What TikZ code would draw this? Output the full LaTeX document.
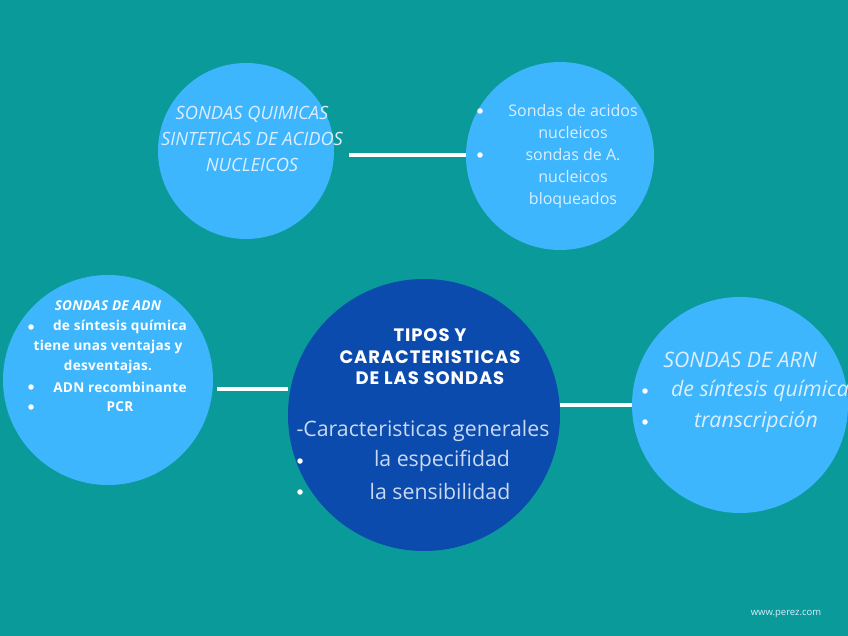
\documentclass[tikz,border=0pt]{standalone}
\usepackage{fontspec}
\setmainfont{Open Sans}
\newfontfamily\titlefont{Poppins}[LetterSpace=5]
\newfontfamily\adnfont{Open Sans}[LetterSpace=2]
\definecolor{bgteal}{HTML}{0A9A9A}
\definecolor{lightblue}{HTML}{3DB6FD}
\definecolor{darkblue}{HTML}{0B4BAD}
\definecolor{palet}{HTML}{DCEEFF}
\definecolor{paled}{HTML}{C9D9F2}
\tikzset{
  lbcircle/.style={circle, fill=lightblue, inner sep=0pt},
  dbcircle/.style={circle, fill=darkblue, inner sep=0pt},
  conn/.style={draw=white, line width=3.5pt},
  txt/.style={inner sep=0pt, anchor=center},
  bul/.style={circle, fill=white, inner sep=0pt, minimum size=5.5pt},
}
\begin{document}
\begin{tikzpicture}[x=1pt,y=-1pt]
\fill[bgteal] (0,0) rectangle (848,636);
\useasboundingbox (0,0) rectangle (848,636);

% circles
\node[lbcircle, minimum size=176pt] (c1) at (246,151) {};
\node[lbcircle, minimum size=188pt] (c2) at (560,156) {};
\node[lbcircle, minimum size=210pt] (c3) at (108,380) {};
\node[dbcircle, minimum size=272pt] (c0) at (424,415) {};
\node[lbcircle, minimum size=216pt] (c4) at (740,405) {};

% connectors
\coordinate (l1) at (349,155);
\draw[conn] (l1) -- (c2.west |- l1);
\coordinate (l2) at (217,389);
\draw[conn] (l2) -- (c0.west |- l2);
\draw[conn] (c0.east |- c4.west) -- (c4.west);

% circle 1 text
\node[txt, text=palet, align=center, font=\fontsize{18.3}{26}\selectfont\itshape] (t1) at (252,139)
  {SONDAS QUIMICAS\\SINTETICAS DE ACIDOS\\NUCLEICOS};

% circle 2 text
\node[txt, text=palet, align=center, font=\fontsize{16}{22}\selectfont] (t2) at (573,156)
  {Sondas de acidos\\nucleicos\\sondas de A.\\nucleicos\\bloqueados};
\node[bul] (b21) at (480,111) {};
\node[bul] (b22) at (480,155) {};

% circle 3 text
\begin{scope}[every node/.style={txt, text=white, font=\fontsize{13.6}{13.6}\selectfont\adnfont\bfseries}]
\node (t31) at (108,306) {\itshape SONDAS DE ADN};
\node (t32) at (120,327) {de síntesis química};
\node (t33) at (108,347) {tiene unas ventajas y};
\node (t34) at (108,367) {desventajas.};
\node (t35) at (120,387) {ADN recombinante};
\node (t36) at (120,407) {PCR};
\end{scope}
\node[bul] (b31) at (31,327) {};
\node[bul] (b32) at (31,387) {};
\node[bul] (b33) at (31,407) {};

% central text
\node[txt, text=white, align=center, font=\fontsize{18}{21.5}\selectfont\titlefont\bfseries] (t0) at (430,357)
  {TIPOS Y\\CARACTERISTICAS\\DE LAS SONDAS};
\begin{scope}[every node/.style={txt, text=paled, font=\fontsize{21.3}{21.3}\selectfont}]
\node (t01) at (423,431) {-Caracteristicas generales};
\node (t02) at (442,461) {la especifidad};
\node (t03) at (440,492) {la sensibilidad};
\end{scope}
\node[bul] (b01) at (300,461) {};
\node[bul] (b02) at (300,492) {};

% ARN circle text
\begin{scope}[every node/.style={txt, text=palet, font=\fontsize{21.3}{21.3}\selectfont\itshape}]
\node (t41) at (740,360) {SONDAS DE ARN};
\node (t42) at (760,391) {de síntesis química};
\node (t43) at (756,422) {transcripción};
\end{scope}
\node[bul] (b41) at (645,391) {};
\node[bul] (b42) at (645,422) {};

% watermark
\node[txt, text=palet, font=\fontsize{9.5}{9.5}\selectfont] (wm) at (786,614) {www.perez.com};
\end{tikzpicture}
\end{document}
